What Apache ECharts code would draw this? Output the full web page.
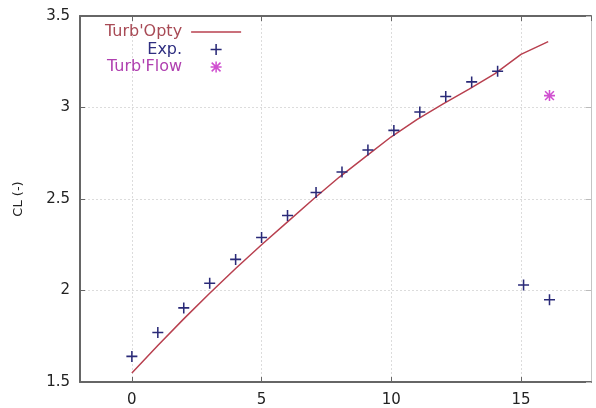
<!DOCTYPE html>
<html>
<head>
<meta charset="utf-8">
<script src="https://cdn.jsdelivr.net/npm/echarts@6/dist/echarts.min.js"></script>
<style>
  html, body { margin: 0; padding: 0; background: #fff; }
  #chart { width: 596px; height: 408px; }
</style>
</head>
<body>
<div id="chart"></div>
<script>
// Lift coefficient vs angle of attack
const optyAlpha = [0, 1, 2, 3, 4, 5, 6, 7, 8, 9, 10, 11, 12, 13, 14, 15, 16.05];
const optyCL = [1.549, 1.70, 1.845, 1.985, 2.12, 2.25, 2.375, 2.50, 2.62, 2.73, 2.84, 2.935, 3.02, 3.10, 3.185, 3.29, 3.36];

const expAlpha = [0, 1, 2, 3, 4, 5, 6, 7.1, 8.1, 9.1, 10.1, 11.1, 12.1, 13.1, 14.1, 15.1, 16.1];
const expCL = [1.64, 1.77, 1.905, 2.04, 2.17, 2.29, 2.41, 2.535, 2.648, 2.768, 2.875, 2.975, 3.06, 3.14, 3.198, 2.03, 1.95];

const flowAlpha = [16.1];
const flowCL = [3.065];

const seriesNames = ["Turb'Opty", 'Exp.', "Turb'Flow"];
const yTicks = { min: 1.5, max: 3.5, step: 0.5 };

const pairs = (xs, ys) => xs.map((x, i) => [x, ys[i]]);

// gnuplot-like point glyphs: "+" and "*" built from thin filled bars
const plusPath = 'path://M0,4.3H10V5.7H0Z M4.3,0H5.7V10H4.3Z';
const starPath = 'path://M0,4.3H10V5.7H0Z M4.3,0H5.7V10H4.3Z M0.5,1.5L1.5,0.5L9.5,8.5L8.5,9.5Z M8.5,0.5L9.5,1.5L1.5,9.5L0.5,8.5Z';
// plain line sample for the key
const keyLinePath = 'path://M0,0H50V1.5H0Z';

const FONT = 'DejaVu Sans';
const frame = '#666';
const gridLine = { show: true, lineStyle: { color: '#dcdcdc', type: [2, 2], width: 1 } };

const chart = echarts.init(document.getElementById('chart'), null, { renderer: 'canvas' });

const xBase = {
  type: 'value',
  min: -2,
  max: 17.7,
  splitNumber: 4,
  minInterval: 5,
  maxInterval: 5
};
const yBase = {
  type: 'value',
  min: yTicks.min,
  max: yTicks.max,
  interval: yTicks.step
};

chart.setOption({
  animation: false,
  backgroundColor: '#fff',
  textStyle: { fontFamily: FONT },
  grid: { left: 80, right: 5, top: 16, bottom: 24, containLabel: false },
  legend: {
    orient: 'vertical',
    align: 'right',
    left: 100,
    top: 19,
    itemWidth: 50,
    itemHeight: 11,
    itemGap: 1.5,
    textStyle: { fontFamily: FONT, fontSize: 16, padding: [0, 4, 0, 0] },
    data: [
      { name: seriesNames[0], icon: keyLinePath, textStyle: { color: '#a84a55' } },
      { name: seriesNames[1], textStyle: { color: '#2e2e80' } },
      { name: seriesNames[2], textStyle: { color: '#b040b0' } }
    ]
  },
  xAxis: [
    Object.assign({}, xBase, {
      position: 'bottom',
      axisLine: { onZero: false, lineStyle: { color: frame, width: 2 } },
      axisTick: { inside: true, length: 5, lineStyle: { color: frame } },
      axisLabel: {
        color: '#222', fontSize: 15, margin: 11, fontFamily: FONT,
        showMinLabel: false, showMaxLabel: false
      },
      splitLine: gridLine
    }),
    Object.assign({}, xBase, {
      position: 'top',
      axisLine: { onZero: false, lineStyle: { color: frame, width: 2 } },
      axisTick: { inside: true, length: 5, lineStyle: { color: frame } },
      axisLabel: { show: false },
      splitLine: { show: false }
    })
  ],
  yAxis: [
    Object.assign({}, yBase, {
      position: 'left',
      name: 'CL (-)',
      nameLocation: 'middle',
      nameRotate: 90,
      nameGap: 55,
      nameTextStyle: { color: '#222', fontSize: 13, fontFamily: FONT },
      axisLine: { onZero: false, lineStyle: { color: frame, width: 2 } },
      axisTick: { inside: true, length: 5, lineStyle: { color: frame } },
      axisLabel: { color: '#222', fontSize: 15, margin: 10, fontFamily: FONT },
      splitLine: gridLine
    }),
    Object.assign({}, yBase, {
      position: 'right',
      axisLine: { show: true, onZero: false, lineStyle: { color: '#c4c4c4', width: 1 } },
      axisTick: { inside: true, length: 5, lineStyle: { color: '#bbb' } },
      axisLabel: { show: false },
      splitLine: { show: false }
    })
  ],
  series: [
    {
      name: seriesNames[0],
      type: 'line',
      data: pairs(optyAlpha, optyCL),
      symbol: 'none',
      lineStyle: { color: '#b8404f', width: 1.5 },
      itemStyle: { color: '#b8404f' },
      z: 3
    },
    {
      name: seriesNames[1],
      type: 'scatter',
      data: pairs(expAlpha, expCL),
      symbol: plusPath,
      symbolSize: 11,
      itemStyle: { color: '#2a2a78', opacity: 1 },
      z: 4
    },
    {
      name: seriesNames[2],
      type: 'scatter',
      data: pairs(flowAlpha, flowCL),
      symbol: starPath,
      symbolSize: 11,
      itemStyle: { color: '#d050d0', opacity: 1 },
      z: 4
    }
  ]
});
</script>
</body>
</html>
